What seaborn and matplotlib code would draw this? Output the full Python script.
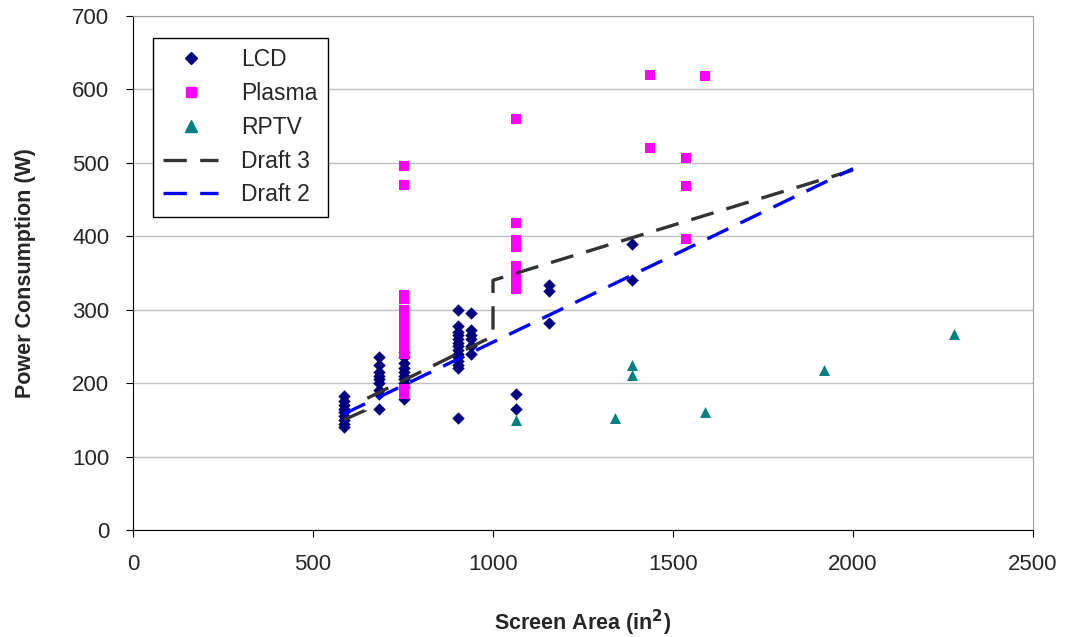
import matplotlib
matplotlib.use("Agg")
import numpy as np
import pandas as pd
import matplotlib.pyplot as plt
import seaborn as sns
from matplotlib.lines import Line2D

# screen area (in^2) and power (W)
lcd_x = [586] * 9 + [684] * 9 + [754] * 10 + [903] * 14 + [940] * 6 + [1064] * 2 + [1155] * 3 + [1385] * 2
lcd_y = [140, 145, 150, 155, 160, 165, 170, 176, 183,
         165, 185, 190, 200, 205, 210, 215, 225, 235,
         178, 195, 200, 205, 210, 215, 220, 228, 235, 242,
         153, 220, 225, 230, 235, 240, 245, 250, 255, 260, 265, 270, 278, 300,
         240, 250, 260, 265, 272, 296,
         165, 185,
         282, 325, 333,
         340, 390]

plasma_x = [754] * 13 + [1064] * 12 + [1436] * 2 + [1535] * 3 + [1590]
plasma_y = [495, 470, 320, 315, 300, 290, 280, 270, 260, 250, 240, 192, 185,
            560, 418, 395, 390, 385, 360, 355, 350, 345, 340, 335, 328,
            620, 520,
            507, 468, 396,
            618]

rptv_x = [1064, 1340, 1385, 1385, 1590, 1920, 2280]
rptv_y = [150, 153, 225, 211, 160, 218, 267]

draft3_x = [586, 645, 645, 1000, 1000, 1500, 2000]
draft3_y = [150, 163, 178, 264, 340, 415, 490]

draft2_x = [586, 2000]
draft2_y = [158, 492]

pts = pd.DataFrame({
    "area": lcd_x + plasma_x + rptv_x,
    "power": lcd_y + plasma_y + rptv_y,
    "type": ["LCD"] * len(lcd_x) + ["Plasma"] * len(plasma_x) + ["RPTV"] * len(rptv_x),
})

sns.set_style("white")
plt.rcParams["font.family"] = ["Liberation Sans", "DejaVu Sans"]

fig = plt.figure(figsize=(10.66, 6.37), dpi=100)
ax = fig.add_axes([0.1248, 0.168, 0.8442, 0.807])

colors = {"LCD": "#000080", "Plasma": "#FF00FF", "RPTV": "#008080"}
marks = {"LCD": "D", "Plasma": "s", "RPTV": "^"}
sizes = {"LCD": 40, "Plasma": 45, "RPTV": 62}
for t in ["LCD", "Plasma", "RPTV"]:
    sns.scatterplot(data=pts[pts["type"] == t], x="area", y="power",
                    color=colors[t], marker=marks[t], s=sizes[t],
                    linewidth=0, ax=ax, legend=False, zorder=3)

ax.plot(draft3_x, draft3_y, color="#333333", lw=2.4, dashes=(7, 4), zorder=4)
ax.plot(draft2_x, draft2_y, color="#0000FF", lw=2.4, dashes=(7, 4), zorder=4)

ax.set_xlim(0, 2500)
ax.set_ylim(0, 700)
ax.set_xticks(np.arange(0, 2501, 500))
ax.set_yticks(np.arange(0, 701, 100))
ax.yaxis.grid(True, color="#c0c0c0", lw=1)
ax.set_axisbelow(True)

for side in ["top", "right"]:
    ax.spines[side].set_color("#a0a0a0")
for side in ["left", "bottom"]:
    ax.spines[side].set_color("black")
ax.tick_params(axis="both", labelsize=16, length=5, direction="out", color="black",
               left=True, bottom=True)
ax.tick_params(axis="x", pad=12)
ax.tick_params(axis="y", pad=12)

ax.set_xlabel("Screen Area (in$^\\mathbf{2}$)", fontsize=15.5, fontweight="bold", labelpad=24)
ax.set_ylabel("Power Consumption (W)", fontsize=15.5, fontweight="bold", labelpad=26)

handles = [
    Line2D([], [], ls="none", marker="D", color="#000080", ms=6.5),
    Line2D([], [], ls="none", marker="s", color="#FF00FF", ms=7),
    Line2D([], [], ls="none", marker="^", color="#008080", ms=8.5),
    Line2D([], [], color="#333333", lw=2.4, dashes=(7, 4)),
    Line2D([], [], color="#0000FF", lw=2.4, dashes=(7, 4)),
]
leg = ax.legend(handles, ["LCD", "Plasma", "RPTV", "Draft 3", "Draft 2"],
                loc="upper left", bbox_to_anchor=(0.022, 0.957), borderaxespad=0,
                fontsize=16.5, frameon=True, fancybox=False, edgecolor="black",
                framealpha=1, handlelength=2.4, handletextpad=1.0,
                labelspacing=0.47, borderpad=0.45)
leg.get_frame().set_linewidth(1)

fig.savefig("out.png", dpi=100)
